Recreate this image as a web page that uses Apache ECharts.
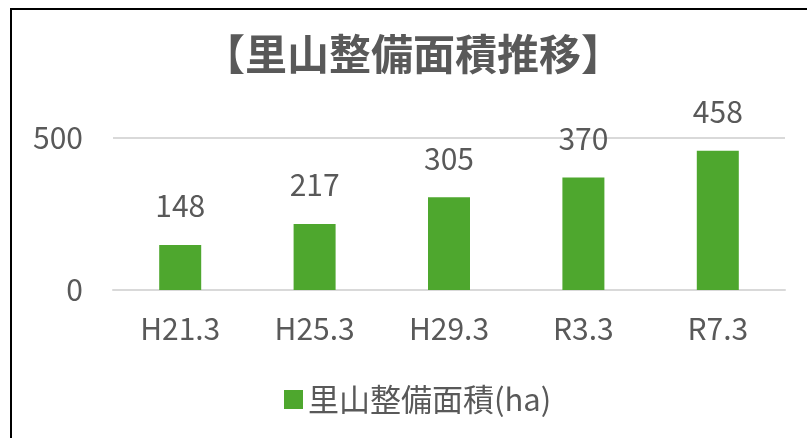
<!DOCTYPE html>
<html>
<head>
<meta charset="utf-8">
<script src="https://cdn.jsdelivr.net/npm/echarts@6/dist/echarts.min.js"></script>
<style>
html, body { margin: 0; padding: 0; background: #fff; }
#main { width: 807px; height: 438px; }
</style>
</head>
<body>
<div id="main"></div>
<script>
// 里山整備面積の推移
var categories = ['H21.3', 'H25.3', 'H29.3', 'R3.3', 'R7.3'];
var areaValues = [148, 217, 305, 370, 458];
var seriesName = '里山整備面積(ha)';
var titleText = '【里山整備面積推移】';

var font = '"Noto Sans CJK JP", "Noto Sans", sans-serif';
var gray = '#595959';

var myChart = echarts.init(document.getElementById('main'));

myChart.setOption({
    animation: false,
    title: {
        text: titleText,
        left: 408,
        textAlign: 'center',
        top: 28,
        textStyle: {
            fontFamily: font,
            fontSize: 42,
            fontWeight: 'bold',
            color: gray
        }
    },
    legend: {
        left: 279,
        top: 379,
        icon: 'rect',
        itemWidth: 19,
        itemHeight: 19,
        itemGap: 10,
        textStyle: {
            fontFamily: font,
            fontSize: 31,
            color: gray
        },
        data: [seriesName]
    },
    grid: {
        left: 113,
        right: 22,
        top: 138,
        bottom: 148
    },
    xAxis: {
        type: 'category',
        data: categories,
        axisTick: { show: false },
        axisLine: { lineStyle: { color: '#d9d9d9', width: 2 } },
        axisLabel: {
            margin: 24,
            fontFamily: font,
            fontSize: 30,
            color: gray
        }
    },
    yAxis: {
        type: 'value',
        min: 0,
        max: 500,
        interval: 500,
        axisLabel: {
            margin: 30,
            fontFamily: font,
            fontSize: 30,
            color: gray
        },
        splitLine: { lineStyle: { color: '#d9d9d9', width: 2 } }
    },
    graphic: [{
        type: 'polyline',
        shape: { points: [[11, 438], [11, 9], [807, 9]] },
        style: { stroke: '#000', lineWidth: 2, fill: null }
    }],
    series: [{
        name: seriesName,
        type: 'bar',
        barWidth: 42,
        data: areaValues,
        itemStyle: { color: '#4ea72e' },
        label: {
            show: true,
            position: 'top',
            distance: 24,
            fontFamily: font,
            fontSize: 30,
            color: gray
        }
    }]
});
</script>
</body>
</html>
